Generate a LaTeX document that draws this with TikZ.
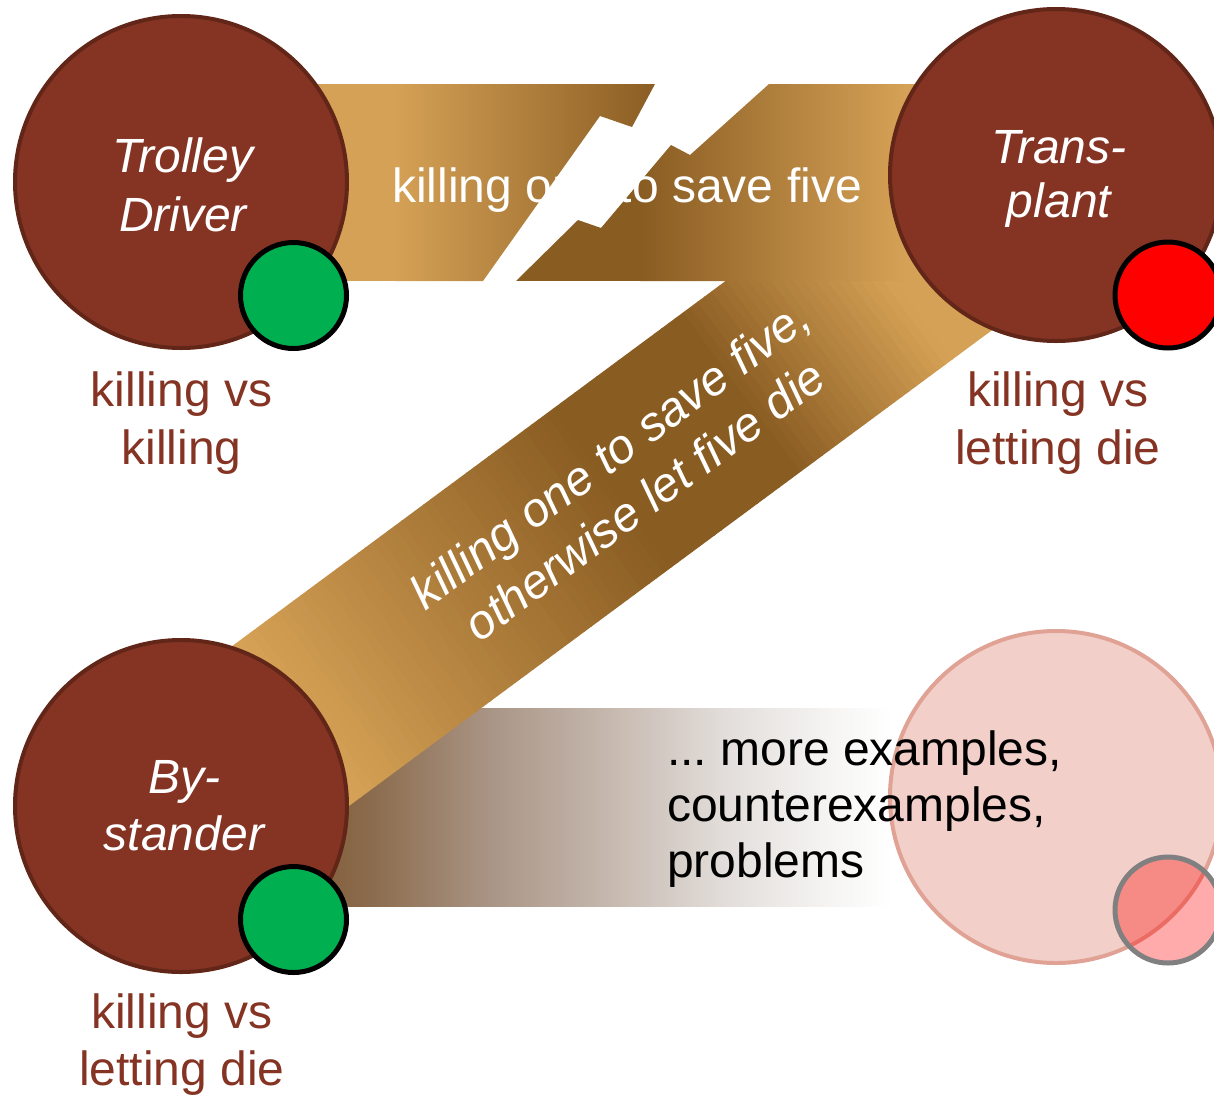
\documentclass[tikz,border=0pt]{standalone}
\usepackage{fontspec}
\setmainfont{Liberation Sans}
\definecolor{tanlight}{RGB}{213,161,86}
\definecolor{tandark}{RGB}{137,92,34}
\definecolor{circfill}{RGB}{133,52,36}
\definecolor{circline}{RGB}{98,38,24}
\definecolor{kgreen}{RGB}{0,176,80}
\definecolor{pinkfill}{RGB}{242,208,201}
\definecolor{pinkline}{RGB}{224,162,148}
\definecolor{bbA}{RGB}{128,92,55}
\definecolor{bbB}{RGB}{140,108,78}
\definecolor{bbC}{RGB}{170,150,135}
\definecolor{bbD}{RGB}{196,182,172}
\definecolor{bbE}{RGB}{226,221,218}
\definecolor{bbF}{RGB}{246,245,244}
\pgfdeclarehorizontalshading{bottomband}{100bp}{color(0bp)=(bbA); color(25bp)=(bbA); color(31bp)=(bbB); color(41bp)=(bbC); color(50bp)=(bbD); color(60bp)=(bbE); color(69bp)=(bbF); color(74bp)=(white); color(100bp)=(white)}
\newcommand\dfont[1]{\fontsize{48pt}{#1pt}\selectfont}
\begin{document}
\begin{tikzpicture}[x=1pt,y=-1pt,
  bigcirc/.style={circle, minimum size=332pt, inner sep=0pt, fill=circfill, draw=circline, line width=4pt},
  smallcirc/.style={circle, minimum size=106pt, inner sep=0pt, draw=black, line width=5pt},
  lbl/.style={inner sep=0pt, align=center}]
\path[use as bounding box] (0,0) rectangle (1214,1095);
\clip (0,0) rectangle (1214,1095);

% bottom band
\shade[shading=bottomband] (300,708) rectangle (905,906);

% diagonal band (strips along its length)
\begin{scope}[shift={(619,483)}, rotate=36.5]
\foreach \i in {0,...,99} {
  \pgfmathsetmacro\ta{-449+\i*8.98}
  \pgfmathsetmacro\tb{\ta+9.8}
  \pgfmathsetmacro\tm{\ta+4.49}
  \pgfmathtruncatemacro\p{100*max(0,min(1,(\tm+400)/390,(340-\tm)/190))}
  \fill[tandark!\p!tanlight] (\ta,-99) rectangle (\tb,99);
}
\end{scope}

% top band, split by the lightning gap
\begin{scope}
\clip (300,84) -- (655,84) -- (632,127) -- (600,116) -- (483,281) -- (300,281) -- cycle;
\fill[tanlight] (300,84) rectangle (396,281);
\shade[left color=tanlight, right color=tandark] (395,84) rectangle (660,281);
\end{scope}
\begin{scope}
\clip (769,84) -- (1000,84) -- (1000,281) -- (516,281) -- (578,220) -- (601,228) -- (671,145) -- (690,155) -- cycle;
\fill[tandark] (500,84) rectangle (641,281);
\shade[left color=tandark, right color=tanlight] (640,84) rectangle (905,281);
\fill[tanlight] (904,84) rectangle (1000,281);
\end{scope}

% big circles
\node[bigcirc] (trolley) at (181,182) {};
\node[bigcirc] (transplant) at (1056,175) {};
\node[bigcirc] (bystander) at (181,806) {};
\node[circle, minimum size=332pt, inner sep=0pt, fill=pinkfill, draw=pinkline, line width=4pt] (more) at (1056,797) {};

% small circles
\node[smallcirc, fill=kgreen] (g1) at (293.5,295.5) {};
\node[smallcirc, fill=red] (r1) at (1168,295) {};
\node[smallcirc, fill=kgreen] (g2) at (293.5,919.5) {};
\node[smallcirc, fill=red, fill opacity=0.33, draw=gray] (p1) at (1168,910) {};

% texts in circles
\node[lbl, white, font=\dfont{59}\itshape] (tdtext) at (183,185.3) {Trolley\\Driver};
\node[lbl, white, font=\dfont{54.5}\itshape] (tptext) at (1059,179) {Trans-\\plant};
\node[lbl, white, font=\dfont{57}\itshape] (bstext) at (184,805.5) {By-\\stander};

% labels under circles
\node[lbl, circfill, font=\dfont{57.6}] (tdlabel) at (181.5,423.3) {killing vs\\killing};
\node[lbl, circfill, font=\dfont{57.6}] (tplabel) at (1058,422.8) {killing vs\\letting die};
\node[lbl, circfill, font=\dfont{57}] (bslabel) at (182,1044.5) {killing vs\\letting die};

% band texts
\node[inner sep=0pt, anchor=base, white, font=\dfont{57.6}] (toptext) at (627,202) {killing one to save five};
\node[lbl, white, rotate=36.5, font=\dfont{57.6}\itshape] (diagtext) at (627,477) {killing one to save five,\\otherwise let five die};
\node[inner sep=0pt, anchor=west, align=left, black, font=\dfont{56}\frenchspacing] (moretext) at (667,808.6) {... more examples,\\counterexamples,\\problems};
\end{tikzpicture}
\end{document}
